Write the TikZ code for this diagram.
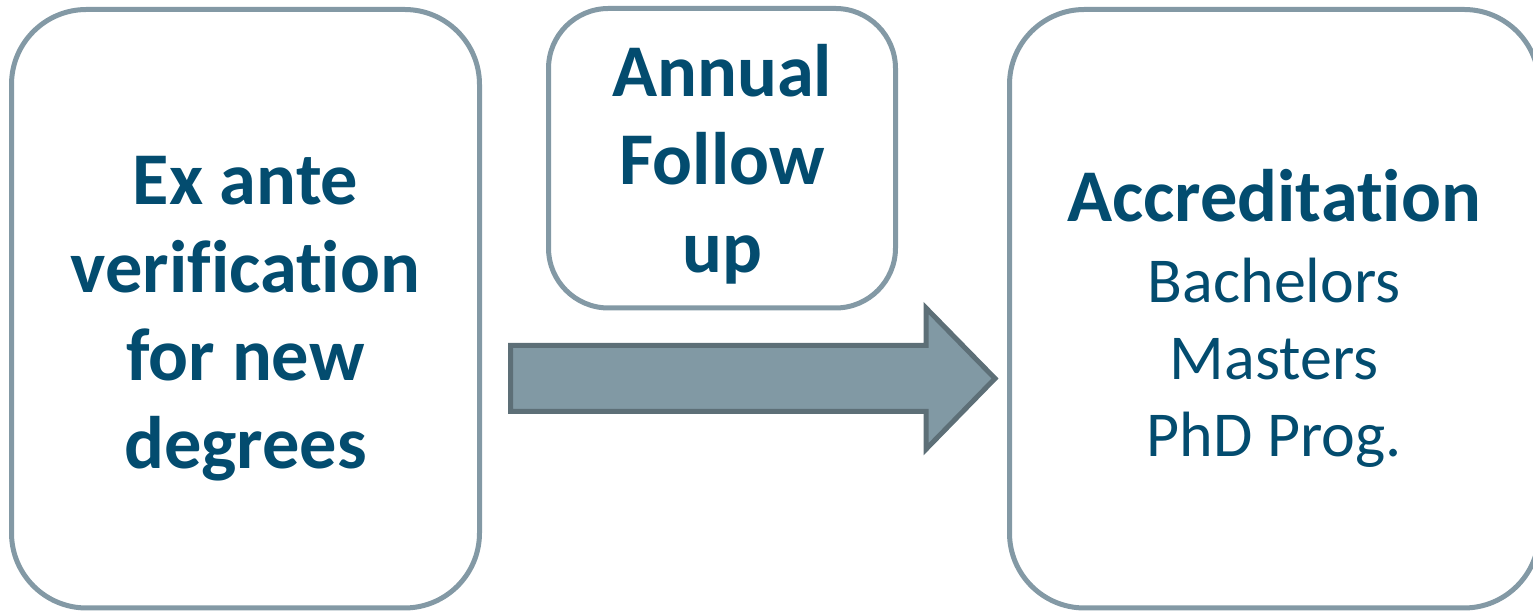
\documentclass[tikz,border=0pt]{standalone}
\usepackage{fontspec}
\setmainfont{Carlito}[Ligatures=NoCommon]
\definecolor{boxline}{HTML}{8399A5}
\definecolor{arrowfill}{HTML}{8199A4}
\definecolor{arrowline}{HTML}{5D6F77}
\definecolor{textblue}{HTML}{034C6F}

\begin{document}
\begin{tikzpicture}[x=0.5pt, y=0.5pt,
    stage/.style={draw=boxline, line width=2.5pt, rounded corners=37.5pt, inner sep=0pt, text=textblue, align=center},
    bigbold/.style={font=\fontsize{37.2}{44}\selectfont\bfseries},
    plain/.style={font=\fontsize{32}{38.5}\selectfont}]
  \useasboundingbox (0,0) rectangle (1533,614);
  % the three stages
  \node[stage, minimum width=234pt, minimum height=299.25pt] (exante) at (245.5,305.25) {};
  \node[bigbold, text=textblue, align=center, yshift=-5pt] (exantetxt) at (exante)
    {Ex ante\\verification\\for new\\degrees};
  \node[stage, rounded corners=30pt, minimum width=173.5pt, minimum height=149.75pt] (annual) at (722,455.75) {};
  \node[bigbold, text=textblue, align=center, yshift=-3pt] (annualtxt) at (annual)
    {Annual\\Follow\\up};
  \node[stage, minimum width=264.75pt, minimum height=299.25pt] (accred) at (1274.25,305.25) {};
  \node[plain, text=textblue, align=center, yshift=-5pt] (accredtxt) at (accred)
    {{\fontsize{37.2}{44}\selectfont\bfseries Accreditation}\\[2pt]Bachelors\\Masters\\PhD Prog.};
  % big arrow
  \draw[draw=arrowline, fill=arrowfill, line width=2.5pt, line join=miter]
    (510.5,268.5) -- (926,268.5) -- (926,306) -- (995,235.5) -- (926,164.75)
    -- (926,202.5) -- (510.5,202.5) -- cycle;
\end{tikzpicture}
\end{document}
